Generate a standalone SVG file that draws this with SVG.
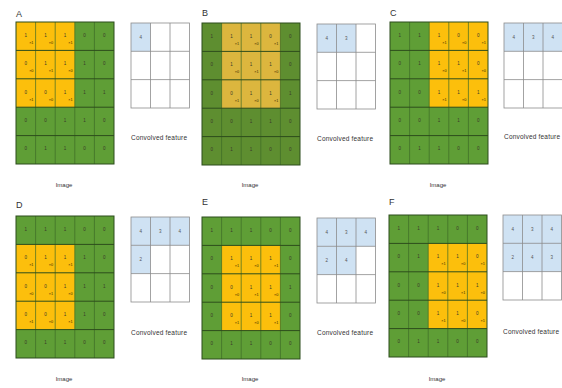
<svg xmlns="http://www.w3.org/2000/svg" width="562" height="388" viewBox="0 0 562 388">
<style>
.bg{fill:#ffffff}
.g{fill:#5f9e36}
.y{fill:#fcbf0c}
.gB{fill:#5e8e30}
.yB{fill:#dcb63e}
.cl{stroke:#3e6a26;stroke-width:0.7;fill:none}
.rl{stroke:#2d4d1c;stroke-width:1;fill:none}
.v{font-family:"Liberation Sans",Arial,sans-serif;font-size:4.5px;fill:#3a3a2a;text-anchor:middle}
.s{font-family:"Liberation Sans",Arial,sans-serif;font-size:3.8px;fill:#3a2a00;text-anchor:middle}
.cg{stroke:#8c8c8c;stroke-width:0.8;fill:none}
.blue{fill:#cfe2f3}
.cv{font-family:"Liberation Sans",Arial,sans-serif;font-size:4.5px;fill:#555;text-anchor:middle}
.lab{font-family:"Liberation Sans",Arial,sans-serif;font-size:9px;fill:#333}
.cap{font-family:"Liberation Sans",Arial,sans-serif;font-size:6.5px;fill:#333}
.img{font-family:"Liberation Sans",Arial,sans-serif;font-size:6px;fill:#333;text-anchor:middle}
</style>
<defs>
<g id="lines">
<path class="cl" d="M19.6 0V142M39.2 0V142M58.8 0V142M78.4 0V142"/>
<path class="rl" d="M0 28.4H98M0 56.8H98M0 85.2H98M0 113.6H98"/>
<rect class="rl" x="0" y="0" width="98" height="142"/>
</g>
<g id="cgrid">
<path class="cg" d="M134.5 1V86M154 1V86M115 29.3H173.5M115 57.6H173.5"/>
<rect class="cg" x="115" y="1" width="58.5" height="85"/>
</g>
</defs>
<rect class="bg" width="562" height="388"/>

<!-- Panel A -->
<g id="panelA" transform="translate(16,22)">
<text class="lab" x="0" y="-5">A</text>
<rect class="g" width="98" height="142"/>
<rect class="y" x="0" y="0" width="58.8" height="85.2"/>
<use href="#lines"/>
<g>
<text class="v" x="9.8" y="14.7">1</text><text class="v" x="29.4" y="14.7">1</text><text class="v" x="49" y="14.7">1</text><text class="v" x="68.6" y="14.7">0</text><text class="v" x="88.2" y="14.7">0</text>
<text class="v" x="9.8" y="43.1">0</text><text class="v" x="29.4" y="43.1">1</text><text class="v" x="49" y="43.1">1</text><text class="v" x="68.6" y="43.1">1</text><text class="v" x="88.2" y="43.1">0</text>
<text class="v" x="9.8" y="71.5">0</text><text class="v" x="29.4" y="71.5">0</text><text class="v" x="49" y="71.5">1</text><text class="v" x="68.6" y="71.5">1</text><text class="v" x="88.2" y="71.5">1</text>
<text class="v" x="9.8" y="99.9">0</text><text class="v" x="29.4" y="99.9">0</text><text class="v" x="49" y="99.9">1</text><text class="v" x="68.6" y="99.9">1</text><text class="v" x="88.2" y="99.9">0</text>
<text class="v" x="9.8" y="128.3">0</text><text class="v" x="29.4" y="128.3">1</text><text class="v" x="49" y="128.3">1</text><text class="v" x="68.6" y="128.3">0</text><text class="v" x="88.2" y="128.3">0</text>
</g>
<g>
<text class="s" x="15.3" y="21.7">×1</text><text class="s" x="34.9" y="21.7">×0</text><text class="s" x="54.5" y="21.7">×1</text>
<text class="s" x="15.3" y="50.1">×0</text><text class="s" x="34.9" y="50.1">×1</text><text class="s" x="54.5" y="50.1">×0</text>
<text class="s" x="15.3" y="78.5">×1</text><text class="s" x="34.9" y="78.5">×0</text><text class="s" x="54.5" y="78.5">×1</text>
</g>
<rect class="blue" x="115" y="1" width="19.5" height="28.3"/>
<use href="#cgrid"/>
<text class="cv" x="124.75" y="16.6">4</text>
<text class="cap" x="115" y="118" textLength="56">Convolved feature</text>
<text class="img" x="48" y="165">Image</text>
</g>

<!-- Panel B -->
<g id="panelB" transform="translate(202,23)">
<text class="lab" x="0" y="-7">B</text>
<rect class="gB" width="98" height="142"/>
<rect class="yB" x="19.6" y="0" width="58.8" height="85.2"/>
<use href="#lines"/>
<g>
<text class="v" x="9.8" y="14.7">1</text><text class="v" x="29.4" y="14.7">1</text><text class="v" x="49" y="14.7">1</text><text class="v" x="68.6" y="14.7">0</text><text class="v" x="88.2" y="14.7">0</text>
<text class="v" x="9.8" y="43.1">0</text><text class="v" x="29.4" y="43.1">1</text><text class="v" x="49" y="43.1">1</text><text class="v" x="68.6" y="43.1">1</text><text class="v" x="88.2" y="43.1">0</text>
<text class="v" x="9.8" y="71.5">0</text><text class="v" x="29.4" y="71.5">0</text><text class="v" x="49" y="71.5">1</text><text class="v" x="68.6" y="71.5">1</text><text class="v" x="88.2" y="71.5">1</text>
<text class="v" x="9.8" y="99.9">0</text><text class="v" x="29.4" y="99.9">0</text><text class="v" x="49" y="99.9">1</text><text class="v" x="68.6" y="99.9">1</text><text class="v" x="88.2" y="99.9">0</text>
<text class="v" x="9.8" y="128.3">0</text><text class="v" x="29.4" y="128.3">1</text><text class="v" x="49" y="128.3">1</text><text class="v" x="68.6" y="128.3">0</text><text class="v" x="88.2" y="128.3">0</text>
</g>
<g>
<text class="s" x="34.9" y="21.7">×1</text><text class="s" x="54.5" y="21.7">×0</text><text class="s" x="74.1" y="21.7">×1</text>
<text class="s" x="34.9" y="50.1">×0</text><text class="s" x="54.5" y="50.1">×1</text><text class="s" x="74.1" y="50.1">×0</text>
<text class="s" x="34.9" y="78.5">×1</text><text class="s" x="54.5" y="78.5">×0</text><text class="s" x="74.1" y="78.5">×1</text>
</g>
<rect class="blue" x="115" y="1" width="39" height="28.3"/>
<use href="#cgrid"/>
<text class="cv" x="124.75" y="16.6">4</text><text class="cv" x="144.25" y="16.6">3</text>
<text class="cap" x="115" y="118" textLength="56">Convolved feature</text>
<text class="img" x="48" y="164">Image</text>
</g>

<!-- Panel C -->
<g id="panelC" transform="translate(390,22)">
<text class="lab" x="0" y="-6">C</text>
<rect class="g" width="98" height="142"/>
<rect class="y" x="39.2" y="0" width="58.8" height="85.2"/>
<use href="#lines"/>
<g>
<text class="v" x="9.8" y="14.7">1</text><text class="v" x="29.4" y="14.7">1</text><text class="v" x="49" y="14.7">1</text><text class="v" x="68.6" y="14.7">0</text><text class="v" x="88.2" y="14.7">0</text>
<text class="v" x="9.8" y="43.1">0</text><text class="v" x="29.4" y="43.1">1</text><text class="v" x="49" y="43.1">1</text><text class="v" x="68.6" y="43.1">1</text><text class="v" x="88.2" y="43.1">0</text>
<text class="v" x="9.8" y="71.5">0</text><text class="v" x="29.4" y="71.5">0</text><text class="v" x="49" y="71.5">1</text><text class="v" x="68.6" y="71.5">1</text><text class="v" x="88.2" y="71.5">1</text>
<text class="v" x="9.8" y="99.9">0</text><text class="v" x="29.4" y="99.9">0</text><text class="v" x="49" y="99.9">1</text><text class="v" x="68.6" y="99.9">1</text><text class="v" x="88.2" y="99.9">0</text>
<text class="v" x="9.8" y="128.3">0</text><text class="v" x="29.4" y="128.3">1</text><text class="v" x="49" y="128.3">1</text><text class="v" x="68.6" y="128.3">0</text><text class="v" x="88.2" y="128.3">0</text>
</g>
<g>
<text class="s" x="54.5" y="21.7">×1</text><text class="s" x="74.1" y="21.7">×0</text><text class="s" x="93.7" y="21.7">×1</text>
<text class="s" x="54.5" y="50.1">×0</text><text class="s" x="74.1" y="50.1">×1</text><text class="s" x="93.7" y="50.1">×0</text>
<text class="s" x="54.5" y="78.5">×1</text><text class="s" x="74.1" y="78.5">×0</text><text class="s" x="93.7" y="78.5">×1</text>
</g>
<rect class="blue" x="114" y="1" width="58.5" height="28.3"/>
<g transform="translate(-1,0)"><use href="#cgrid"/></g>
<text class="cv" x="123.75" y="16.6">4</text><text class="cv" x="143.25" y="16.6">3</text><text class="cv" x="162.75" y="16.6">4</text>
<text class="cap" x="114" y="117" textLength="56">Convolved feature</text>
<text class="img" x="48" y="165">Image</text>
</g>

<!-- Panel D -->
<g id="panelD" transform="translate(16,216)">
<text class="lab" x="0" y="-8">D</text>
<rect class="g" width="98" height="142"/>
<rect class="y" x="0" y="28.4" width="58.8" height="85.2"/>
<use href="#lines"/>
<g>
<text class="v" x="9.8" y="14.7">1</text><text class="v" x="29.4" y="14.7">1</text><text class="v" x="49" y="14.7">1</text><text class="v" x="68.6" y="14.7">0</text><text class="v" x="88.2" y="14.7">0</text>
<text class="v" x="9.8" y="43.1">0</text><text class="v" x="29.4" y="43.1">1</text><text class="v" x="49" y="43.1">1</text><text class="v" x="68.6" y="43.1">1</text><text class="v" x="88.2" y="43.1">0</text>
<text class="v" x="9.8" y="71.5">0</text><text class="v" x="29.4" y="71.5">0</text><text class="v" x="49" y="71.5">1</text><text class="v" x="68.6" y="71.5">1</text><text class="v" x="88.2" y="71.5">1</text>
<text class="v" x="9.8" y="99.9">0</text><text class="v" x="29.4" y="99.9">0</text><text class="v" x="49" y="99.9">1</text><text class="v" x="68.6" y="99.9">1</text><text class="v" x="88.2" y="99.9">0</text>
<text class="v" x="9.8" y="128.3">0</text><text class="v" x="29.4" y="128.3">1</text><text class="v" x="49" y="128.3">1</text><text class="v" x="68.6" y="128.3">0</text><text class="v" x="88.2" y="128.3">0</text>
</g>
<g>
<text class="s" x="15.3" y="50.1">×1</text><text class="s" x="34.9" y="50.1">×0</text><text class="s" x="54.5" y="50.1">×1</text>
<text class="s" x="15.3" y="78.5">×0</text><text class="s" x="34.9" y="78.5">×1</text><text class="s" x="54.5" y="78.5">×0</text>
<text class="s" x="15.3" y="106.9">×1</text><text class="s" x="34.9" y="106.9">×0</text><text class="s" x="54.5" y="106.9">×1</text>
</g>
<rect class="blue" x="115" y="1" width="58.5" height="28.3"/>
<rect class="blue" x="115" y="29.3" width="19.5" height="28.3"/>
<use href="#cgrid"/>
<text class="cv" x="124.75" y="16.6">4</text><text class="cv" x="144.25" y="16.6">3</text><text class="cv" x="163.75" y="16.6">4</text>
<text class="cv" x="124.75" y="44.9">2</text>
<text class="cap" x="115" y="119" textLength="56">Convolved feature</text>
<text class="img" x="48" y="165">Image</text>
</g>

<!-- Panel E -->
<g id="panelE" transform="translate(202,217)">
<text class="lab" x="0" y="-12">E</text>
<rect class="g" width="98" height="142"/>
<rect class="y" x="19.6" y="28.4" width="58.8" height="85.2"/>
<use href="#lines"/>
<g>
<text class="v" x="9.8" y="14.7">1</text><text class="v" x="29.4" y="14.7">1</text><text class="v" x="49" y="14.7">1</text><text class="v" x="68.6" y="14.7">0</text><text class="v" x="88.2" y="14.7">0</text>
<text class="v" x="9.8" y="43.1">0</text><text class="v" x="29.4" y="43.1">1</text><text class="v" x="49" y="43.1">1</text><text class="v" x="68.6" y="43.1">1</text><text class="v" x="88.2" y="43.1">0</text>
<text class="v" x="9.8" y="71.5">0</text><text class="v" x="29.4" y="71.5">0</text><text class="v" x="49" y="71.5">1</text><text class="v" x="68.6" y="71.5">1</text><text class="v" x="88.2" y="71.5">1</text>
<text class="v" x="9.8" y="99.9">0</text><text class="v" x="29.4" y="99.9">0</text><text class="v" x="49" y="99.9">1</text><text class="v" x="68.6" y="99.9">1</text><text class="v" x="88.2" y="99.9">0</text>
<text class="v" x="9.8" y="128.3">0</text><text class="v" x="29.4" y="128.3">1</text><text class="v" x="49" y="128.3">1</text><text class="v" x="68.6" y="128.3">0</text><text class="v" x="88.2" y="128.3">0</text>
</g>
<g>
<text class="s" x="34.9" y="50.1">×1</text><text class="s" x="54.5" y="50.1">×0</text><text class="s" x="74.1" y="50.1">×1</text>
<text class="s" x="34.9" y="78.5">×0</text><text class="s" x="54.5" y="78.5">×1</text><text class="s" x="74.1" y="78.5">×0</text>
<text class="s" x="34.9" y="106.9">×1</text><text class="s" x="54.5" y="106.9">×0</text><text class="s" x="74.1" y="106.9">×1</text>
</g>
<rect class="blue" x="115" y="1" width="58.5" height="28.3"/>
<rect class="blue" x="115" y="29.3" width="39" height="28.3"/>
<use href="#cgrid"/>
<text class="cv" x="124.75" y="16.6">4</text><text class="cv" x="144.25" y="16.6">3</text><text class="cv" x="163.75" y="16.6">4</text>
<text class="cv" x="124.75" y="44.9">2</text><text class="cv" x="144.25" y="44.9">4</text>
<text class="cap" x="115" y="118" textLength="56">Convolved feature</text>
<text class="img" x="48" y="164">Image</text>
</g>

<!-- Panel F -->
<g id="panelF" transform="translate(389,215)">
<text class="lab" x="0" y="-10">F</text>
<rect class="g" width="98" height="142"/>
<rect class="y" x="39.2" y="28.4" width="58.8" height="85.2"/>
<use href="#lines"/>
<g>
<text class="v" x="9.8" y="14.7">1</text><text class="v" x="29.4" y="14.7">1</text><text class="v" x="49" y="14.7">1</text><text class="v" x="68.6" y="14.7">0</text><text class="v" x="88.2" y="14.7">0</text>
<text class="v" x="9.8" y="43.1">0</text><text class="v" x="29.4" y="43.1">1</text><text class="v" x="49" y="43.1">1</text><text class="v" x="68.6" y="43.1">1</text><text class="v" x="88.2" y="43.1">0</text>
<text class="v" x="9.8" y="71.5">0</text><text class="v" x="29.4" y="71.5">0</text><text class="v" x="49" y="71.5">1</text><text class="v" x="68.6" y="71.5">1</text><text class="v" x="88.2" y="71.5">1</text>
<text class="v" x="9.8" y="99.9">0</text><text class="v" x="29.4" y="99.9">0</text><text class="v" x="49" y="99.9">1</text><text class="v" x="68.6" y="99.9">1</text><text class="v" x="88.2" y="99.9">0</text>
<text class="v" x="9.8" y="128.3">0</text><text class="v" x="29.4" y="128.3">1</text><text class="v" x="49" y="128.3">1</text><text class="v" x="68.6" y="128.3">0</text><text class="v" x="88.2" y="128.3">0</text>
</g>
<g>
<text class="s" x="54.5" y="50.1">×1</text><text class="s" x="74.1" y="50.1">×0</text><text class="s" x="93.7" y="50.1">×1</text>
<text class="s" x="54.5" y="78.5">×0</text><text class="s" x="74.1" y="78.5">×1</text><text class="s" x="93.7" y="78.5">×0</text>
<text class="s" x="54.5" y="106.9">×1</text><text class="s" x="74.1" y="106.9">×0</text><text class="s" x="93.7" y="106.9">×1</text>
</g>
<g transform="translate(-1,-1)">
<rect class="blue" x="115" y="1" width="58.5" height="56.6"/>
<use href="#cgrid"/>
<text class="cv" x="124.75" y="16.6">4</text><text class="cv" x="144.25" y="16.6">3</text><text class="cv" x="163.75" y="16.6">4</text>
<text class="cv" x="124.75" y="44.9">2</text><text class="cv" x="144.25" y="44.9">4</text><text class="cv" x="163.75" y="44.9">3</text>
</g>
<text class="cap" x="114" y="119" textLength="56">Convolved feature</text>
<text class="img" x="48" y="166">Image</text>
</g>
</svg>
